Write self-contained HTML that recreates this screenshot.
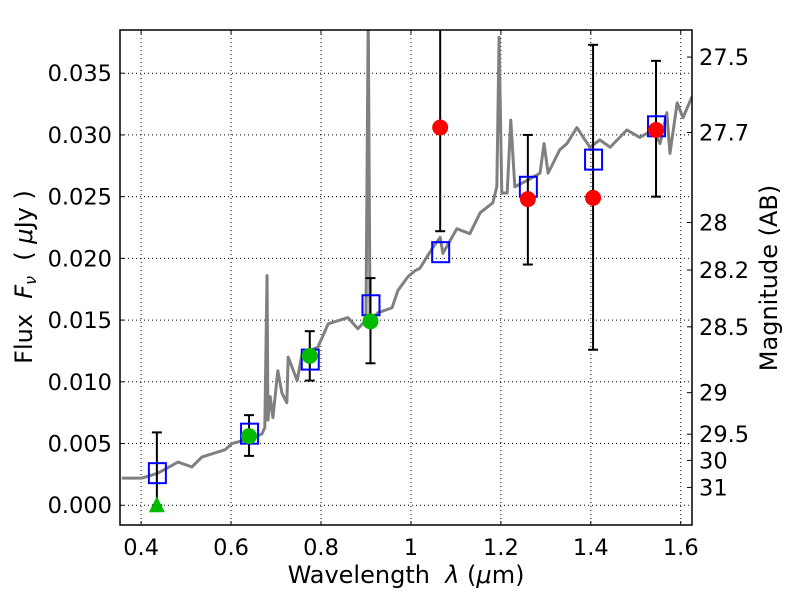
<!DOCTYPE html>
<html><head><meta charset="utf-8"><style>
body{margin:0;background:#fff}
svg text{font-family:"DejaVu Sans","Liberation Sans",sans-serif;font-size:22.5px;fill:#000;white-space:pre}
svg text.title{font-size:24px}
</style></head><body>
<svg id="c" width="800" height="600"></svg>
<script>
const specX=[.357,.402,.437,.482,.513,.535,.587,.602,.653,.669,.675,.680,.682,.687,.693,.704,.713,.724,.727,.747,.758,.793,.816,.860,.882,.900,.905,.909,.927,.958,.971,.993,1.009,1.020,1.049,1.065,1.071,1.102,1.131,1.154,1.182,1.191,1.196,1.202,1.214,1.222,1.231,1.258,1.287,1.296,1.305,1.331,1.347,1.369,1.398,1.420,1.443,1.480,1.509,1.538,1.554,1.569,1.576,1.592,1.605,1.625];
const specY=[.0022,.0022,.0026,.0035,.0031,.0039,.0045,.0050,.0055,.0058,.0063,.0186,.0069,.0088,.0071,.0109,.0091,.0083,.0120,.0101,.0123,.0128,.0147,.0152,.0143,.0150,.0400,.0150,.0156,.0160,.0174,.0185,.0190,.0192,.0209,.0217,.0204,.0224,.0220,.0237,.0245,.0258,.0379,.0253,.0253,.0312,.0258,.0263,.0269,.0293,.0269,.0288,.0293,.0306,.0290,.0296,.0290,.0304,.0298,.0304,.0293,.0318,.0285,.0326,.0314,.0331];
const modelX=[.435,.64,.775,.91,1.065,1.26,1.405,1.545];
const modelY=[.0026,.0058,.0118,.0162,.0205,.0258,.0280,.0307];
const greenX=[.64,.775,.91];
const greenY=[.0056,.0121,.0149];
const greenLo=[.0040,.0101,.0115];
const greenHi=[.0073,.0141,.0184];
const limX=[.435];const limY=[0];const limHi=[.0059];
const redX=[1.065,1.26,1.405,1.545];
const redY=[.0306,.0248,.0249,.0304];
const redLo=[.0222,.0195,.0126,.0250];
const redHi=[.0420,.0300,.0373,.0360];
const xTicks=[0.4,0.6,0.8,1.0,1.2,1.4,1.6];
const xTickLabels=["0.4","0.6","0.8","1","1.2","1.4","1.6"];
const yTicks=[0,.005,.01,.015,.02,.025,.03,.035];
const yTickLabels=["0.000","0.005","0.010","0.015","0.020","0.025","0.030","0.035"];
const magTicks=[27.5,27.7,28,28.2,28.5,29,29.5,30,31];
const magLabels=["27.5","27.7","28","28.2","28.5","29","29.5","30","31"];

const L=120,R=692,T=30,B=525,x0=.353,x1=1.625,y0=-.0016,y1=.0385;
const X=v=>L+(v-x0)/(x1-x0)*(R-L);
const Y=v=>B-(v-y0)/(y1-y0)*(B-T);
const NS="http://www.w3.org/2000/svg";
const svg=document.getElementById('c');
function mk(t,a,p){const e=document.createElementNS(NS,t);for(const k in a)e.setAttribute(k,a[k]);(p||svg).appendChild(e);return e;}
const defs=mk('defs',{});const cp=mk('clipPath',{id:'cl'},defs);mk('rect',{x:L,y:T,width:R-L,height:B-T},cp);
const plot=mk('g',{'clip-path':'url(#cl)'});


xTicks.forEach((v,i)=>{
 const g=mk('line',{x1:X(v),x2:X(v),y1:T,y2:B,stroke:'#000','stroke-width':1,'stroke-dasharray':'1,3'},plot);
 
 
 mk('line',{x1:X(v),x2:X(v),y1:B,y2:B-4,stroke:'#000'});mk('line',{x1:X(v),x2:X(v),y1:T,y2:T+4,stroke:'#000'});
 const t=mk('text',{x:X(v),y:B+30,'text-anchor':'middle'});t.textContent=xTickLabels[i];
 
 
});
yTicks.forEach((v,i)=>{
 const g=mk('line',{x1:L,x2:R,y1:Y(v),y2:Y(v),stroke:'#000','stroke-width':1,'stroke-dasharray':'1,3'},plot);
 
 
 mk('line',{x1:L,x2:L+4,y1:Y(v),y2:Y(v),stroke:'#000'});
 const t=mk('text',{x:L-8,y:Y(v)+8,'text-anchor':'end'});t.textContent=yTickLabels[i];
 
 
});
magTicks.forEach((m,i)=>{
 const f=Math.pow(10,(23.9-m)/2.5);
 mk('line',{x1:R,x2:R-5,y1:Y(f),y2:Y(f),stroke:'#000'});
 const t=mk('text',{x:R+7,y:Y(f)+8});t.textContent=magLabels[i];
 
 
});
const sp=mk('polyline',{points:specX.map((v,i)=>X(v)+','+Y(specY[i])).join(' '),fill:'none',stroke:'#808080','stroke-width':3,'stroke-linejoin':'round'},plot);


function err(x,lo,hi){
 const g=mk('g',{},plot);
 
 
 mk('line',{x1:X(x),x2:X(x),y1:Y(lo),y2:Y(hi),stroke:'#000','stroke-width':2},g);
 mk('line',{x1:X(x)-5,x2:X(x)+5,y1:Y(lo),y2:Y(lo),stroke:'#000','stroke-width':2},g);
 mk('line',{x1:X(x)-5,x2:X(x)+5,y1:Y(hi),y2:Y(hi),stroke:'#000','stroke-width':2},g);
}
limX.forEach((v,i)=>err(v,limY[i],limHi[i]));
greenX.forEach((v,i)=>err(v,greenLo[i],greenHi[i]));
redX.forEach((v,i)=>err(v,redLo[i],redHi[i]));
modelX.forEach((v,i)=>{const r=mk('rect',{x:X(v)-8,y:Y(modelY[i])-10,width:17,height:20,fill:'none',stroke:'#0000ff','stroke-width':2},plot);
 
 });
greenX.forEach((v,i)=>{const c=mk('circle',{cx:X(v),cy:Y(greenY[i]),r:8,fill:'#00bb00'},plot);
 
 });
limX.forEach((v,i)=>{const x=X(v),y=Y(limY[i]);const p=mk('polygon',{points:`${x},${y-9} ${x-8},${y+7} ${x+8},${y+7}`,fill:'#00bb00'},plot);
 
 });
redX.forEach((v,i)=>{const c=mk('circle',{cx:X(v),cy:Y(redY[i]),r:8,fill:'#ff0000'},plot);
 
 });
const fr=mk('rect',{x:L,y:T,width:R-L,height:B-T,fill:'none',stroke:'#000','stroke-width':1.5});


const xt=mk('text',{x:406,y:583,'text-anchor':'middle',class:'title'});xt.innerHTML='Wavelength  <tspan font-style="italic">λ</tspan> (<tspan font-style="italic">μ</tspan>m)';


const yt=mk('text',{x:0,y:0,'text-anchor':'middle',class:'title',transform:'translate(32,277) rotate(-90)'});yt.innerHTML='Flux  <tspan font-style="italic">F</tspan><tspan font-style="italic" font-size="16" dy="4">ν</tspan><tspan dy="-4">  ( </tspan><tspan font-style="italic">μ</tspan>Jy )';


const rt=mk('text',{x:0,y:0,'text-anchor':'middle',class:'title',transform:'translate(777,278) rotate(-90)'});rt.textContent='Magnitude (AB)';


</script>
</body></html>
